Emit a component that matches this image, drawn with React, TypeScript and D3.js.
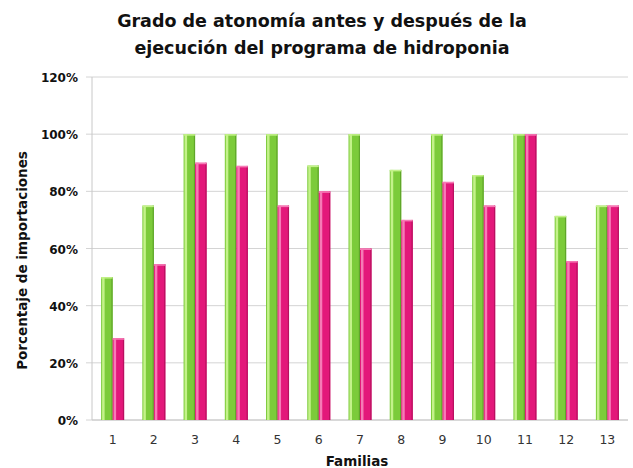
import { useEffect, useRef } from 'react'
import * as d3 from 'd3'

// Familias 1..13
const familias = ['1', '2', '3', '4', '5', '6', '7', '8', '9', '10', '11', '12', '13']
// antes / después (%)
const antes = [50, 75, 100, 100, 100, 89, 100, 87.5, 100, 85.7, 100, 71.4, 75]
const despues = [28.6, 54.5, 90, 88.9, 75, 80, 60, 70, 83.3, 75, 100, 55.6, 75]
const yTicks = [0, 20, 40, 60, 80, 100, 120]

const W = 633
const H = 468
const M = { top: 77, right: 5, bottom: 48, left: 92 }
const IW = W - M.left - M.right
const IH = H - M.top - M.bottom

const FONT = '"DejaVu Sans", "Liberation Sans", sans-serif'

export default function App() {
  const svgRef = useRef<SVGSVGElement>(null)

  useEffect(() => {
    const svg = d3.select(svgRef.current)
    svg.selectAll('*').remove()

    const x = d3.scaleBand<string>().domain(familias).range([0, IW]).paddingInner(0).paddingOuter(0)
    const y = d3.scaleLinear().domain([0, 120]).range([IH, 0])

    // título
    const title = svg.append('text')
      .attr('x', 322).attr('text-anchor', 'middle')
      .attr('font-family', FONT).attr('font-weight', 'bold').attr('font-size', 17.5)
      .attr('fill', '#111')
    title.append('tspan').attr('x', 322).attr('y', 27).text('Grado de atonomía antes y después de la')
    title.append('tspan').attr('x', 322).attr('y', 54).text('ejecución del programa de hidroponia')

    const g = svg.append('g').attr('transform', `translate(${M.left},${M.top})`)

    // rejilla
    yTicks.forEach((t) => {
      g.append('line')
        .attr('x1', -6).attr('x2', IW)
        .attr('y1', y(t)).attr('y2', y(t))
        .attr('stroke', '#d4d4d4').attr('stroke-width', 1)
      g.append('text')
        .attr('x', -14).attr('y', y(t) + 5)
        .attr('text-anchor', 'end')
        .attr('font-family', FONT).attr('font-weight', 'bold').attr('font-size', 12)
        .attr('fill', '#111')
        .text(`${t}%`)
    })
    g.append('line')
      .attr('x1', 0).attr('x2', 0).attr('y1', 0).attr('y2', IH)
      .attr('stroke', '#c8c8c8')
    g.append('line')
      .attr('x1', 0).attr('x2', IW).attr('y1', IH).attr('y2', IH)
      .attr('stroke', '#c8c8c8')

    const bw = 11.5
    const drawBar = (cx: number, v: number, fill: string, light: string, dark: string) => {
      const top = y(v)
      g.append('rect')
        .attr('x', cx).attr('y', top).attr('width', bw).attr('height', IH - top)
        .attr('fill', fill)
      g.append('rect')
        .attr('x', cx + 1).attr('y', top).attr('width', 2.5).attr('height', IH - top)
        .attr('fill', light)
      g.append('rect')
        .attr('x', cx + bw - 1.2).attr('y', top).attr('width', 1.2).attr('height', IH - top)
        .attr('fill', dark)
      g.append('rect')
        .attr('x', cx).attr('y', top).attr('width', bw).attr('height', 1.5)
        .attr('fill', light)
    }

    familias.forEach((f, i) => {
      const c = (x(f) ?? 0) + x.bandwidth() / 2
      drawBar(c - bw, antes[i], '#7ccb3a', '#c4f28a', '#5fa62a')
      drawBar(c, despues[i], '#e3187a', '#f67bb6', '#b8105f')
      g.append('text')
        .attr('x', c).attr('y', IH + 24)
        .attr('text-anchor', 'middle')
        .attr('font-family', FONT).attr('font-size', 12.5).attr('fill', '#333')
        .text(f)
    })

    // títulos de ejes
    svg.append('text')
      .attr('x', M.left + IW / 2 - 3).attr('y', 466)
      .attr('text-anchor', 'middle')
      .attr('font-family', FONT).attr('font-weight', 'bold').attr('font-size', 13.5)
      .attr('fill', '#111').text('Familias')
    svg.append('text')
      .attr('transform', `translate(27,${M.top + IH / 2 + 12}) rotate(-90)`)
      .attr('text-anchor', 'middle')
      .attr('font-family', FONT).attr('font-weight', 'bold').attr('font-size', 13.5)
      .attr('fill', '#111').text('Porcentaje de importaciones')
  }, [])

  return (
    <svg ref={svgRef} width={W} height={H} viewBox={`0 0 ${W} ${H}`}
      style={{ position: 'absolute', left: 0, top: 0, background: '#fff' }} />
  )
}
